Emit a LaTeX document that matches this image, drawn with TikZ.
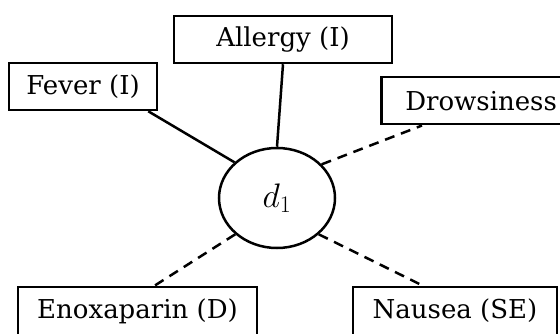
\RequirePackage{fix-cm}
\documentclass[tikz,border=0pt]{standalone}
\usepackage{fontspec}
\setmainfont{DejaVu Serif}
\usetikzlibrary{shapes.geometric}
\begin{document}
\begin{tikzpicture}[x=1pt,y=-1pt,
  box/.style={draw,line width=2.5pt,inner sep=0pt,minimum height=47pt,font=\fontsize{26}{30}\selectfont},
  link/.style={line width=2.5pt},
  maybe/.style={line width=2.5pt,dash pattern=on 10pt off 7pt}]
\useasboundingbox (0,0) rectangle (560,334);
\clip (0,0) rectangle (560,334);
\node[box,minimum width=218pt] (allergy) at (283,39.5) {Allergy (I)};
\node[box,minimum width=148pt] (fever) at (83,86.5) {Fever (I)};
\node[box,anchor=north west,text width=220pt,inner xsep=24pt,align=left] (drowsy) at (380,76) {Drowsiness};
\node[box,minimum width=239pt,minimum height=48pt] (enox) at (137.5,311) {Enoxaparin (D)};
\node[box,minimum width=204pt,minimum height=48pt] (nausea) at (455,311) {Nausea (SE)};
\node[draw,ellipse,line width=2.5pt,minimum width=116pt,minimum height=100pt,font=\fontsize{34}{38}\selectfont] (d1) at (277,198) {$d_1$};
% solid links
\draw[link] ([xshift=-10pt]fever.south east) -- (d1.140);
\draw[link] (allergy.south) -- (d1.north);
% dashed links
\draw[maybe] (d1.37) -- ([xshift=42pt]drowsy.south west);
\draw[maybe] (d1.221) -- ([xshift=17pt]enox.north);
\draw[maybe] (d1.-41) -- ([xshift=-32pt]nausea.north);
\end{tikzpicture}
\end{document}
